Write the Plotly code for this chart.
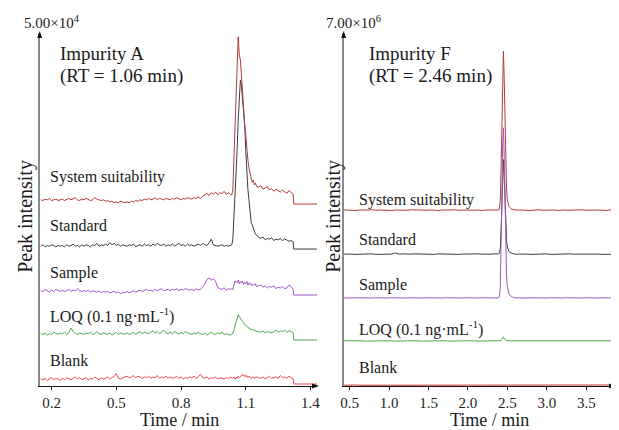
import numpy as np
import plotly.graph_objects as go

# page is shown with the browser's default 8px body margin: design in window pixels, shift by 8
PAGE_W, PAGE_H, BODY_MARGIN = 619, 430, 8
W, H = PAGE_W - BODY_MARGIN, PAGE_H - BODY_MARGIN
FONT = "Liberation Serif, Times New Roman, serif"

# ================= Left panel: Impurity A (values in units of 100 counts) =================
# segment a: t = 0.15 .. 1.03 step 0.01 ; segment b: t = 1.035 .. 1.15 step 0.005 ; segment c: t = 1.16 .. 1.32 step 0.01
ss_a = [6,5,7,6,8,5,6,7,5,6, 7,5,6,8,6,7,9,6,5,7, 6,8,7,5,6,9,7,6,5,6, 4,5,3,4,2,3,2,4,3,2,
        3,2,4,3,5,4,6,5,7,6, 8,6,7,9,6,8,7,6,8,7, 6,8,7,9,7,6,8,7,9,8, 7,9,8,10,8,11,13,15,12,16,
        14,17,13,16,15,18,14,16,13]
ss_b = [13,20,62,105,147,190,237,211,204,183,154,133,112,98,76,62,51,41,37,31,34,27,30,25]
ss_c = [24,26,21,23,25,20,22,18,21,19,17,20,18,15,19,16,14]

std_a = [4,6,3,5,4,6,5,3,5,4, 5,3,6,4,5,7,4,5,3,6, 4,6,5,3,6,5,8,4,6,5, 7,5,9,6,8,5,7,4,6,5,
         4,6,5,7,3,5,6,4,7,5, 6,4,7,5,8,6,5,7,4,6, 5,7,4,6,8,5,6,4,7,5, 6,4,5,7,5,8,6,5,9,14,
         6,5,4,5,6,4,5,4,5]
std_b = [6,13,41,76,98,140,183,211,239,232,211,190,176,140,105,84,69,48,38,34,30,24,21,20]
std_c = [16,15,17,13,15,14,16,12,14,13,15,12,14,13,11,12,10]

smp_a = [6,5,8,6,4,7,5,8,6,5, 7,5,6,8,5,7,6,9,6,5, 6,5,7,4,6,5,4,6,3,5, 4,5,3,4,5,3,4,2,4,3,
         5,3,4,6,4,5,7,5,6,8, 6,7,5,8,6,7,9,6,7,8, 6,8,7,9,6,8,7,9,8,7, 8,6,9,7,8,11,15,22,24,21,
         23,19,11,9,8,10,7,9,8]
smp_b = [9,8,14,20,18,17,21,16,19,17,20,15,18,16,19,14,17,15,16,13,15,14,16,12]
smp_c = [13,14,11,13,10,12,11,13,9,11,10,12,9,10,14,12,8]

loq_a = [9,8,10,7,9,8,11,9,8,10, 9,11,8,10,17,12,9,8,10,9, 8,10,9,11,8,9,12,9,8,10, 9,8,10,7,9,11,8,10,9,8,
         10,8,9,11,8,10,12,9,11,10, 9,11,13,10,12,9,11,14,10,9, 11,9,12,10,8,11,9,12,10,9, 8,10,9,11,9,8,10,7,9,11,
         9,8,10,9,11,8,9,8,7]
loq_b = [8,10,14,20,26,31,36,33,30,28,26,24,22,21,19,18,17,16,15,14,15,13,14,12]
loq_c = [12,11,13,10,12,11,10,12,14,11,13,12,14,11,13,12,10]

blk_a = [7,6,8,5,7,9,6,8,7,5, 8,6,9,7,6,8,10,7,9,6, 7,9,6,8,7,10,8,6,9,7, 8,10,7,9,11,15,8,7,9,10,
         11,9,10,12,9,11,10,8,10,9, 11,8,10,9,12,8,10,9,11,8, 10,8,9,11,8,10,7,9,8,10, 9,11,8,10,14,9,8,10,7,9,
         8,10,7,9,8,7,9,8,10]
blk_b = [9,8,10,7,9,8,11,9,10,12,14,11,13,10,12,9,11,10,8,9,10,8,9,10]
blk_c = [9,8,10,7,9,11,8,9,10,8,12,9,10,8,11,9,7]

# after the acquisition window the signal drops to zero
a_end_time = [1.322, 1.45]
a_end_level = [0, 0]

# ================= Right panel: Impurity F (values in units of 1e5 counts) =================
# segment a: t = 0.43 .. 2.38 step 0.05 ; segment b: t = 2.39 .. 2.60 step 0.01 ; segment c: t = 2.65 .. 3.90 step 0.05
f_ss_a = [0.10,0.05,0.10,0.00,0.10,0.05,0.10,0.15,0.05,0.10, 0.05,0.10,0.00,0.10,0.05,0.10,0.05,0.15,0.10,0.05,
          0.10,0.05,0.10,0.05,0.00,0.10,0.05,0.10,0.15,0.05, 0.10,0.05,0.10,0.05,0.10,0.00,0.10,0.05,0.10,0.10]
f_ss_b = [0.1,0.5,2.0,8.0,18.0,28.0,31.6,26.0,16.0,8.0,4.0,2.2,1.3,0.8,0.6,0.4,0.3,0.25,0.2,0.15,0.1,0.1]
f_ss_c = [0.10,0.05,0.10,0.00,0.10,0.15,0.05,0.10,0.05,0.10, 0.00,0.10,0.05,0.10,0.05,0.10,0.15,0.05,0.10,0.05,
          0.10,0.05,0.00,0.10,0.05,0.10]

f_std_a = [0.05,0.10,0.05,0.00,0.05,0.10,0.05,0.10,0.00,0.05, 0.10,0.05,0.05,0.30,0.05,0.10,0.00,0.05,0.10,0.05,
           0.05,0.10,0.05,0.00,0.10,0.05,0.05,0.10,0.05,0.00, 0.05,0.10,0.05,0.05,0.10,0.05,0.00,0.05,0.10,0.05]
f_std_b = [0.1,0.3,1.2,4.5,10.5,16.5,18.8,15.5,9.5,5.0,2.6,1.5,0.9,0.6,0.45,0.3,0.25,0.2,0.15,0.1,0.1,0.05]
f_std_c = [0.05,0.10,0.05,0.00,0.05,0.10,0.05,0.10,0.00,0.05, 0.10,0.05,0.05,0.10,0.05,0.00,0.10,0.05,0.05,0.10,
           0.05,0.00,0.05,0.10,0.05,0.05]

f_smp_a = [0.05,0.00,0.05,0.10,0.05,0.00,0.05,0.05,0.10,0.05, 0.00,0.05,0.10,0.05,0.00,0.05,0.05,0.10,0.05,0.00,
           0.05,0.10,0.05,0.00,0.05,0.05,0.10,0.05,0.00,0.05, 0.05,0.10,0.05,0.00,0.05,0.10,0.05,0.05,0.00,0.05]
f_smp_b = [0.1,0.5,2.2,8.5,19.5,30.0,33.8,28.0,17.0,8.5,4.2,2.3,1.4,0.9,0.6,0.45,0.35,0.25,0.2,0.15,0.1,0.1]
f_smp_c = [0.05,0.00,0.05,0.10,0.05,0.00,0.05,0.05,0.10,0.05, 0.00,0.05,0.10,0.05,0.00,0.05,0.05,0.10,0.05,0.00,
           0.05,0.10,0.05,0.00,0.05,0.05]

f_loq_a = [0.05,0.10,0.05,0.05,0.10,0.05,0.00,0.05,0.10,0.05, 0.05,0.10,0.05,0.00,0.05,0.10,0.05,0.05,0.10,0.05,
           0.00,0.05,0.10,0.05,0.05,0.10,0.05,0.00,0.05,0.10, 0.05,0.05,0.10,0.05,0.00,0.05,0.10,0.05,0.05,0.10]
f_loq_b = [0.05,0.05,0.05,0.1,0.35,0.7,0.85,0.55,0.3,0.2,0.15,0.1,0.1,0.05,0.05,0.05,0.05,0.05,0.05,0.05,0.05,0.05]
f_loq_c = [0.05,0.10,0.05,0.00,0.05,0.10,0.05,0.05,0.10,0.05, 0.00,0.05,0.10,0.05,0.05,0.10,0.05,0.00,0.05,0.10,
           0.05,0.05,0.10,0.05,0.00,0.05]

f_blk_a = [0.00,0.05,0.00,0.05,0.00,0.00,0.05,0.00,0.05,0.00, 0.00,0.05,0.00,0.05,0.00,0.00,0.05,0.00,0.05,0.00,
           0.00,0.05,0.00,0.05,0.00,0.00,0.05,0.00,0.05,0.00, 0.00,0.05,0.00,0.05,0.00,0.00,0.05,0.00,0.05,0.00]
f_blk_b = [0.00,0.05,0.00,0.05,0.00,0.05,0.05,0.00,0.05,0.00,0.05,0.00,0.05,0.00,0.05,0.00,0.05,0.00,0.05,0.00,0.05,0.00]
f_blk_c = [0.05,0.10,0.05,0.10,0.05,0.10,0.15,0.10,0.05,0.10, 0.15,0.10,0.05,0.15,0.10,0.05,0.10,0.15,0.10,0.05,
           0.10,0.15,0.10,0.05,0.10,0.05]

trace_names = ["System suitability", "Standard", "Sample", "LOQ (0.1 ng·mL<sup>-1</sup>)", "Blank"]
left_x_ticks = [0.2, 0.5, 0.8, 1.1, 1.4]
right_x_ticks = [0.5, 1.0, 1.5, 2.0, 2.5, 3.0, 3.5]

# ---------------- styling / layout constants ----------------
left_colors = ["#b23a3a", "#3c3c3c", "#a353c8", "#4fa84f", "#f04a4a"]
right_colors = ["#b23a3a", "#3c3c3c", "#a353c8", "#4fa84f", "#c8302c"]
left_offsets = [25770, 19400, 12890, 6510, 280]          # counts
right_offsets = [34.8e5, 26.1e5, 17.4e5, 8.9e5, 0.15e5]  # counts
LEFT_UNIT = 100.0
RIGHT_UNIT = 1e5


def seg_time(start, step, n):
    return start + step * np.arange(n)


def left_series(a, b, c):
    t = np.concatenate([seg_time(0.15, 0.01, len(a)), seg_time(1.035, 0.005, len(b)),
                        seg_time(1.16, 0.01, len(c)), np.array(a_end_time)])
    v = np.concatenate([a, b, c, a_end_level]).astype(float) * LEFT_UNIT
    return t, v


def right_series(a, b, c):
    t = np.concatenate([seg_time(0.43, 0.05, len(a)), seg_time(2.39, 0.01, len(b)),
                        seg_time(2.65, 0.05, len(c))])
    v = np.concatenate([a, b, c]).astype(float) * RIGHT_UNIT
    return t, v


fig = go.Figure()

left_data = [(ss_a, ss_b, ss_c), (std_a, std_b, std_c), (smp_a, smp_b, smp_c),
             (loq_a, loq_b, loq_c), (blk_a, blk_b, blk_c)]
right_data = [(f_ss_a, f_ss_b, f_ss_c), (f_std_a, f_std_b, f_std_c), (f_smp_a, f_smp_b, f_smp_c),
              (f_loq_a, f_loq_b, f_loq_c), (f_blk_a, f_blk_b, f_blk_c)]

for i in [4, 3, 2, 1, 0]:
    t, v = left_series(*left_data[i])
    fig.add_trace(go.Scatter(x=t, y=v + left_offsets[i], mode="lines",
                             line=dict(color=left_colors[i], width=1), xaxis="x", yaxis="y",
                             showlegend=False, hoverinfo="skip"))
for i in [4, 3, 1, 0, 2]:
    t, v = right_series(*right_data[i])
    fig.add_trace(go.Scatter(x=t, y=v + right_offsets[i], mode="lines",
                             line=dict(color=right_colors[i], width=1), xaxis="x2", yaxis="y2",
                             showlegend=False, hoverinfo="skip"))


def px(x):
    return (x - BODY_MARGIN) / W


def py(y):
    return 1 - (y - BODY_MARGIN) / H


L_X0, L_X1, L_Y0, L_Y1 = 37, 317, 386, 33
R_X0, R_X1, R_Y0, R_Y1 = 344, 617, 386, 33

xcommon = dict(showgrid=False, zeroline=False, showline=True, linecolor="#111", linewidth=1,
               ticks="outside", ticklen=3, tickcolor="#111", tickwidth=1,
               tickfont=dict(family=FONT, size=15, color="#222"))
ycommon = dict(showgrid=False, zeroline=False, showline=True, linecolor="#8a8a8a", linewidth=1.5,
               showticklabels=False, ticks="")

fig.update_layout(
    width=W, height=H, autosize=False,
    margin=dict(l=0, r=0, t=0, b=0),
    paper_bgcolor="white", plot_bgcolor="white",
    xaxis=dict(domain=[px(L_X0), px(L_X1)], range=[0.145, 1.43], tickvals=left_x_ticks,
               ticktext=[f"{v:.1f}" for v in left_x_ticks], anchor="y", **xcommon),
    yaxis=dict(domain=[py(L_Y0), py(L_Y1)], range=[0, 50000], anchor="x", **ycommon),
    xaxis2=dict(domain=[px(R_X0), px(R_X1)], range=[0.425, 3.852], tickvals=right_x_ticks,
                ticktext=[f"{v:.1f}" for v in right_x_ticks], anchor="y2", **xcommon),
    yaxis2=dict(domain=[py(R_Y0), py(R_Y1)], range=[0, 7e6], anchor="x2", **ycommon),
)

anns = []
shapes = []


def text(s, x, y, size, xanchor="left", textangle=0, color="#1a1a1a"):
    anns.append(dict(text=s, x=px(x), y=py(y), xref="paper", yref="paper", showarrow=False,
                     xanchor=xanchor, yanchor="middle", textangle=textangle,
                     font=dict(family=FONT, size=size, color=color)))


def head_up(x, y):
    p = f"M {px(x)} {py(y)} L {px(x - 2.5)} {py(y + 7)} L {px(x + 2.5)} {py(y + 7)} Z"
    shapes.append(dict(type="path", path=p, xref="paper", yref="paper",
                       fillcolor="#111", line=dict(width=0)))


def head_right(x, y):
    p = f"M {px(x)} {py(y)} L {px(x - 7)} {py(y - 2.5)} L {px(x - 7)} {py(y + 2.5)} Z"
    shapes.append(dict(type="path", path=p, xref="paper", yref="paper",
                       fillcolor="#111", line=dict(width=0)))


# left panel texts
text("5.00×10<sup>4</sup>", 49, 22, 15, "center")
text("Impurity A", 55, 53, 19)
text("(RT = 1.06 min)", 55, 76, 19)
for name, yy in zip(trace_names, [177, 225, 273, 315, 360]):
    text(name, 45, yy, 16)
text("Time / min", 178, 420, 18, "center")
text("Peak intensity", 22, 216, 20, "center", -90)

# right panel texts
text("7.00×10<sup>6</sup>", 354, 22, 15, "center")
text("Impurity F", 368, 53, 19)
text("(RT = 2.46 min)", 368, 76, 19)
for name, yy in zip(trace_names, [200, 239, 285, 328, 367]):
    text(name, 357, yy, 16)
text("Time / min", 491, 420, 18, "center")
text("Peak intensity", 333, 216, 20, "center", -90)

# axis arrowheads
head_up(L_X0, L_Y1 - 2)
head_up(R_X0, R_Y1 - 2)
head_right(L_X1 + 2, L_Y0)
head_right(R_X1 + 2, R_Y0)

fig.update_layout(annotations=anns, shapes=shapes)
fig.write_html("out.html")
